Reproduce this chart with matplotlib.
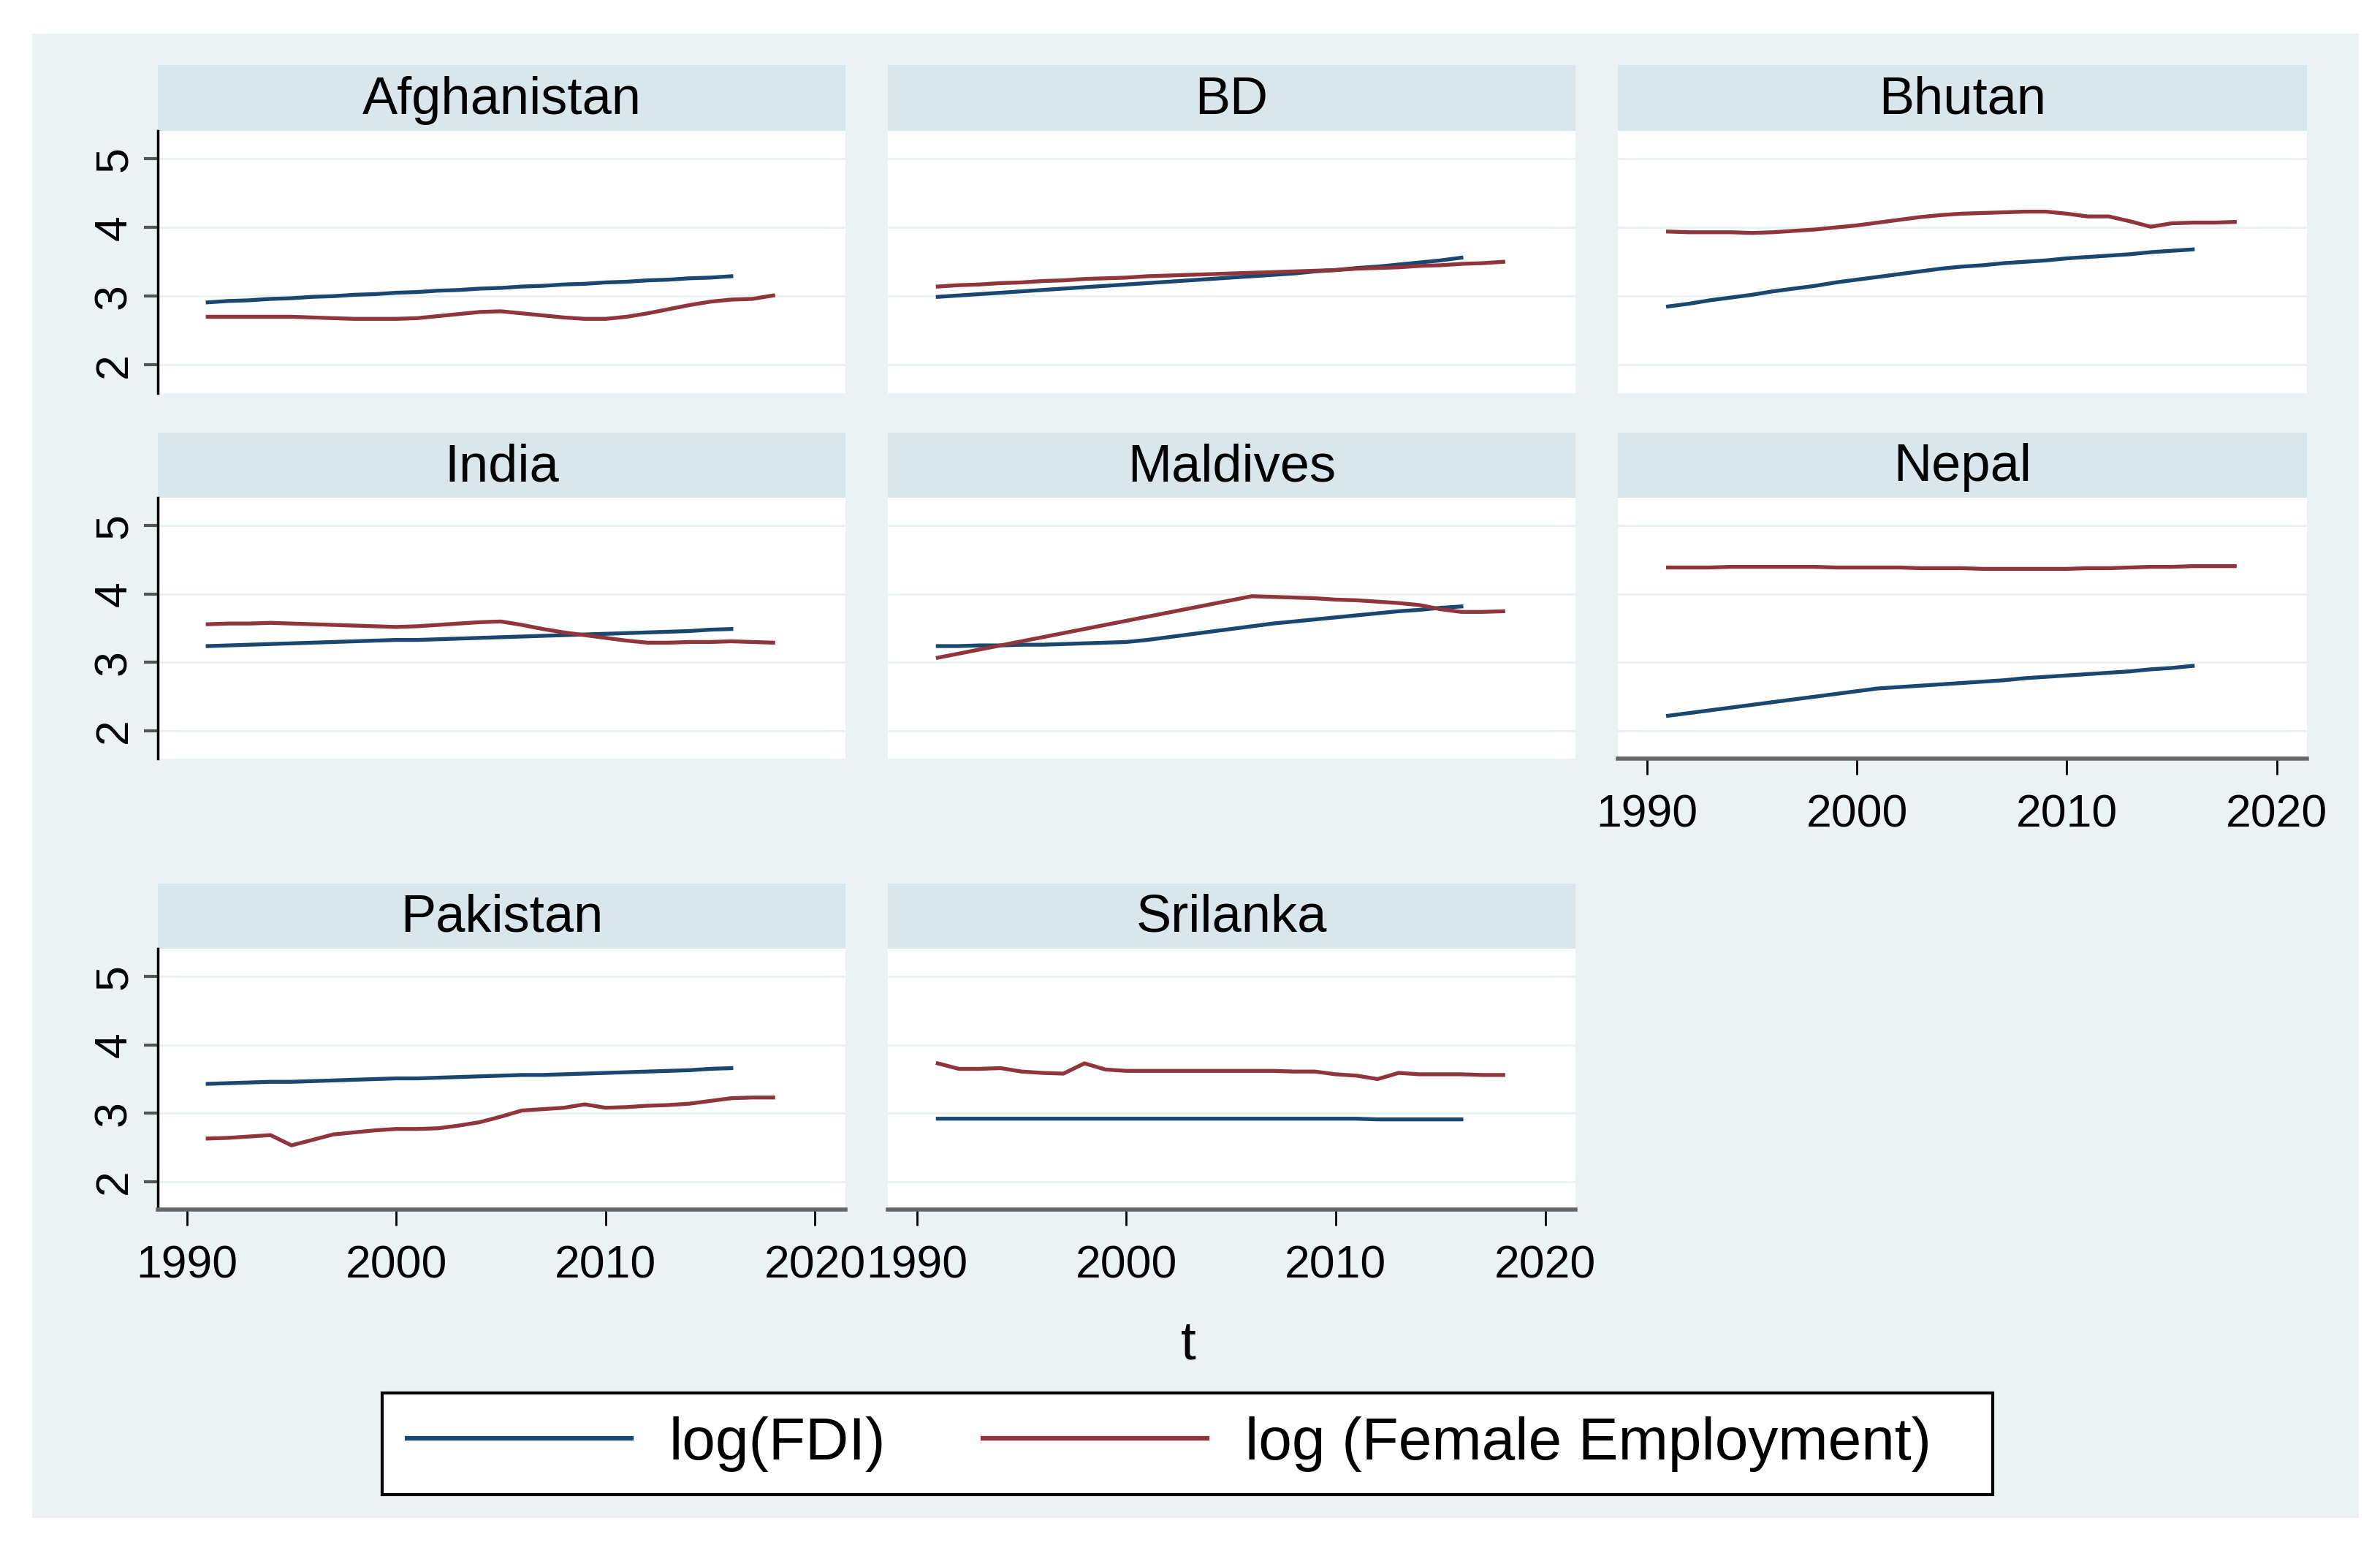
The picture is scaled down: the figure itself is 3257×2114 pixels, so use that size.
import numpy as np
import matplotlib.pyplot as plt
from matplotlib.patches import Rectangle
from matplotlib.lines import Line2D

plt.rcParams['font.family'] = ['Liberation Sans', 'DejaVu Sans']

# years
years_fdi = np.arange(1991, 2017)
years_emp = np.arange(1991, 2019)

countries = ['Afghanistan', 'BD', 'Bhutan', 'India', 'Maldives', 'Nepal', 'Pakistan', 'Srilanka']

# log(FDI), 1991-2016
fdi_afghanistan = [2.91, 2.93, 2.94, 2.96, 2.97, 2.99, 3.00, 3.02, 3.03, 3.05, 3.06, 3.08, 3.09,
                   3.11, 3.12, 3.14, 3.15, 3.17, 3.18, 3.20, 3.21, 3.23, 3.24, 3.26, 3.27, 3.29]
fdi_bd = [2.99, 3.01, 3.03, 3.05, 3.07, 3.09, 3.11, 3.13, 3.15, 3.17, 3.19, 3.21, 3.23,
          3.25, 3.27, 3.29, 3.31, 3.33, 3.36, 3.38, 3.41, 3.43, 3.46, 3.49, 3.52, 3.56]
fdi_bhutan = [2.85, 2.89, 2.94, 2.98, 3.02, 3.07, 3.11, 3.15, 3.20, 3.24, 3.28, 3.32, 3.36,
              3.40, 3.43, 3.45, 3.48, 3.50, 3.52, 3.55, 3.57, 3.59, 3.61, 3.64, 3.66, 3.68]
fdi_india = [3.24, 3.25, 3.26, 3.27, 3.28, 3.29, 3.30, 3.31, 3.32, 3.33, 3.33, 3.34, 3.35,
             3.36, 3.37, 3.38, 3.39, 3.40, 3.41, 3.42, 3.43, 3.44, 3.45, 3.46, 3.48, 3.49]
fdi_maldives = [3.24, 3.24, 3.25, 3.25, 3.26, 3.26, 3.27, 3.28, 3.29, 3.30, 3.33, 3.37, 3.41,
                3.45, 3.49, 3.53, 3.57, 3.60, 3.63, 3.66, 3.69, 3.72, 3.75, 3.77, 3.80, 3.82]
fdi_nepal = [2.22, 2.26, 2.30, 2.34, 2.38, 2.42, 2.46, 2.50, 2.54, 2.58, 2.62, 2.64, 2.66,
             2.68, 2.70, 2.72, 2.74, 2.77, 2.79, 2.81, 2.83, 2.85, 2.87, 2.90, 2.92, 2.95]
fdi_pakistan = [3.43, 3.44, 3.45, 3.46, 3.46, 3.47, 3.48, 3.49, 3.50, 3.51, 3.51, 3.52, 3.53,
                3.54, 3.55, 3.56, 3.56, 3.57, 3.58, 3.59, 3.60, 3.61, 3.62, 3.63, 3.65, 3.66]
fdi_srilanka = [2.92, 2.92, 2.92, 2.92, 2.92, 2.92, 2.92, 2.92, 2.92, 2.92, 2.92, 2.92, 2.92,
                2.92, 2.92, 2.92, 2.92, 2.92, 2.92, 2.92, 2.92, 2.91, 2.91, 2.91, 2.91, 2.91]

# log(Female Employment), 1991-2018
emp_afghanistan = [2.70, 2.70, 2.70, 2.70, 2.70, 2.69, 2.68, 2.67, 2.67, 2.67, 2.68, 2.71, 2.74, 2.77,
                   2.78, 2.75, 2.72, 2.69, 2.67, 2.67, 2.70, 2.75, 2.81, 2.87, 2.92, 2.95, 2.96, 3.01]
emp_bd = [3.14, 3.16, 3.17, 3.19, 3.20, 3.22, 3.23, 3.25, 3.26, 3.27, 3.29, 3.30, 3.31, 3.32,
          3.33, 3.34, 3.35, 3.36, 3.37, 3.38, 3.40, 3.41, 3.42, 3.44, 3.45, 3.47, 3.48, 3.50]
emp_bhutan = [3.94, 3.93, 3.93, 3.93, 3.92, 3.93, 3.95, 3.97, 4.00, 4.03, 4.07, 4.11, 4.15, 4.18,
              4.20, 4.21, 4.22, 4.23, 4.23, 4.20, 4.16, 4.16, 4.09, 4.01, 4.06, 4.07, 4.07, 4.08]
emp_india = [3.56, 3.57, 3.57, 3.58, 3.57, 3.56, 3.55, 3.54, 3.53, 3.52, 3.53, 3.55, 3.57, 3.59,
             3.60, 3.55, 3.49, 3.44, 3.40, 3.36, 3.32, 3.29, 3.29, 3.30, 3.30, 3.31, 3.30, 3.29]
emp_maldives = [3.07, 3.13, 3.19, 3.25, 3.31, 3.37, 3.43, 3.49, 3.55, 3.61, 3.67, 3.73, 3.79, 3.85,
                3.91, 3.97, 3.96, 3.95, 3.94, 3.92, 3.91, 3.89, 3.87, 3.84, 3.78, 3.74, 3.74, 3.75]
emp_nepal = [4.39, 4.39, 4.39, 4.40, 4.40, 4.40, 4.40, 4.40, 4.39, 4.39, 4.39, 4.39, 4.38, 4.38,
             4.38, 4.37, 4.37, 4.37, 4.37, 4.37, 4.38, 4.38, 4.39, 4.40, 4.40, 4.41, 4.41, 4.41]
emp_pakistan = [2.63, 2.64, 2.66, 2.68, 2.53, 2.61, 2.69, 2.72, 2.75, 2.77, 2.77, 2.78, 2.82, 2.87,
                2.95, 3.04, 3.06, 3.08, 3.13, 3.08, 3.09, 3.11, 3.12, 3.14, 3.18, 3.22, 3.23, 3.23]
emp_srilanka = [3.73, 3.65, 3.65, 3.66, 3.61, 3.59, 3.58, 3.73, 3.64, 3.62, 3.62, 3.62, 3.62, 3.62,
                3.62, 3.62, 3.62, 3.61, 3.61, 3.57, 3.55, 3.50, 3.59, 3.57, 3.57, 3.57, 3.56, 3.56]

fdi_all = [fdi_afghanistan, fdi_bd, fdi_bhutan, fdi_india, fdi_maldives, fdi_nepal, fdi_pakistan, fdi_srilanka]
emp_all = [emp_afghanistan, emp_bd, emp_bhutan, emp_india, emp_maldives, emp_nepal, emp_pakistan, emp_srilanka]

yticks = [2, 3, 4, 5]
xticks = [1990, 2000, 2010, 2020]

navy = '#1A476F'
maroon = '#90353B'
bg = '#EAF2F3'
strip = '#D9E6EB'

# layout in reference pixels (1568 x 1018 frame)
W, H = 1568.0, 1018.0
def fx(x):
    return x / W
def fy(y):
    return 1 - y / H

fig = plt.figure(figsize=(32.57, 21.14), dpi=100, facecolor='white')
fig.patches.append(Rectangle((fx(21), fy(1000)), fx(1554) - fx(21), fy(22) - fy(1000),
                             transform=fig.transFigure, facecolor=bg, edgecolor='none', zorder=-10))

cols = [(104, 557), (585, 1038), (1066, 1520)]
rows = [(86, 259), (328, 500), (625, 797)]
with_xaxis = [5, 6, 7]

for i, name in enumerate(countries):
    r, c = divmod(i, 3)
    x0, x1 = cols[c]
    y0, y1 = rows[r]
    ax = fig.add_axes([fx(x0), fy(y1), fx(x1) - fx(x0), fy(y0) - fy(y1)])
    ax.set_facecolor('white')

    # header strip
    fig.patches.append(Rectangle((fx(x0), fy(y0)), fx(x1) - fx(x0), fy(y0 - 43) - fy(y0),
                                 transform=fig.transFigure, facecolor=strip, edgecolor='none', zorder=-5))
    fig.text((fx(x0) + fx(x1)) / 2, fy(y0 - 20), name, ha='center', va='center',
             fontsize=52, color='black')

    for yv in yticks:
        ax.axhline(yv, color=bg, lw=2.2, zorder=1)

    ax.plot(years_fdi, fdi_all[i], color=navy, lw=3.8, zorder=3)
    ax.plot(years_emp, emp_all[i], color=maroon, lw=3.8, zorder=4)

    ax.set_xlim(1988.62, 2021.45)
    ax.set_ylim(1.59, 5.41)

    for s in ['top', 'right']:
        ax.spines[s].set_visible(False)

    if c == 0:
        ax.spines['left'].set_color('black')
        ax.spines['left'].set_linewidth(2.5)
        ax.set_yticks(yticks)
        ax.set_yticklabels([str(v) for v in yticks], rotation=90, va='center')
        ax.tick_params(axis='y', length=14, width=3, color='#555555', labelsize=45, pad=8)
    else:
        ax.spines['left'].set_visible(False)
        ax.set_yticks([])

    if i in with_xaxis:
        ax.spines['bottom'].set_color('#666666')
        ax.spines['bottom'].set_linewidth(4)
        ax.set_xticks(xticks)
        ax.set_xticklabels([str(v) for v in xticks])
        ax.tick_params(axis='x', length=16, width=2, color='black', labelsize=45, pad=18)
    else:
        ax.spines['bottom'].set_visible(False)
        ax.set_xticks([])

fig.text(fx(783), fy(886), 't', ha='center', va='center', fontsize=54)

# legend box drawn as its own frame
fig.patches.append(Rectangle((fx(252), fy(985)), fx(1313) - fx(252), fy(918) - fy(985),
                             transform=fig.transFigure, facecolor='white', edgecolor='black',
                             lw=3, zorder=5))
handles = [Line2D([], [], color=navy, lw=4.5), Line2D([], [], color=maroon, lw=4.5)]
leg = fig.legend(handles, ['log(FDI)', 'log (Female Employment)'], ncol=2,
                 loc='center left', bbox_to_anchor=(fx(268), fy(951.5)),
                 fontsize=59, handlelength=3.75, handletextpad=0.63, columnspacing=1.62,
                 frameon=False, borderpad=0, borderaxespad=0)
leg.set_zorder(6)

fig.savefig('out.png', dpi=100, facecolor='white')
